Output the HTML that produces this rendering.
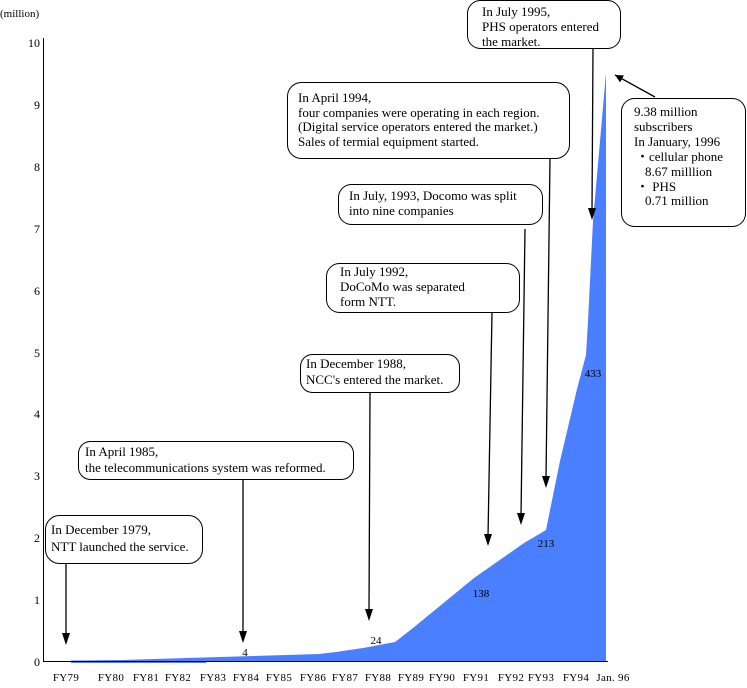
<!DOCTYPE html>
<html><head><meta charset="utf-8"><style>
html,body{margin:0;padding:0;background:#fff;}
svg{display:block;}
text{font-family:"Liberation Serif",serif;fill:#000;}
.t{font-size:13px;}
.ax{font-size:12px;}
.xl{font-size:11px;letter-spacing:0.3px;}
.n{font-family:"Liberation Sans",sans-serif;font-size:11px;}
.b{fill:#fff;stroke:#000;stroke-width:1;}
.ar{stroke:#000;stroke-width:1.3;fill:none;}
</style></head><body>
<svg width="747" height="688" viewBox="0 0 747 688" xmlns="http://www.w3.org/2000/svg">
<defs>
<marker id="ah2" viewBox="0 0 10 10" markerWidth="10" markerHeight="8" refX="10" refY="5" orient="auto" markerUnits="userSpaceOnUse"><path d="M0,0 L10,5 L0,10 Z" fill="#000"/></marker></defs>
<!-- area -->
<polygon fill="#4a7fff" points="71,661 71,660.5 122,660 154,659 187,658 220,657 253,656 286,655 319,654 336,652 363,648 395,642 413,628 474,578 524,543 546,530 560,461 577,389 586,355 588,321 593,221 606,73 606,661"/>
<line x1="71" y1="662" x2="206" y2="662" stroke="#2a4fd0" stroke-width="1.5"/>
<!-- axes -->
<line x1="43.5" y1="38" x2="43.5" y2="662" stroke="#000"/>
<line x1="43" y1="661.5" x2="608" y2="661.5" stroke="#000"/>
<text class="ax" x="0" y="17" style="font-size:11px">(million)</text>
<g class="ax" text-anchor="end">
<text x="40" y="47">10</text><text x="40" y="109">9</text><text x="40" y="171">8</text><text x="40" y="233">7</text><text x="40" y="295">6</text><text x="40" y="357">5</text><text x="40" y="418">4</text><text x="40" y="480">3</text><text x="40" y="542">2</text><text x="40" y="604">1</text><text x="40" y="666">0</text>
</g>
<g class="xl" text-anchor="middle">
<text x="66" y="681">FY79</text><text x="111" y="681">FY80</text><text x="146" y="681">FY81</text><text x="178" y="681">FY82</text><text x="213" y="681">FY83</text><text x="246" y="681">FY84</text><text x="279" y="681">FY85</text><text x="313" y="681">FY86</text><text x="345" y="681">FY87</text><text x="378" y="681">FY88</text><text x="411" y="681">FY89</text><text x="442" y="681">FY90</text><text x="476" y="681">FY91</text><text x="511" y="681">FY92</text><text x="541" y="681">FY93</text><text x="576" y="681">FY94</text><text x="613" y="681">Jan. 96</text>
</g>
<g class="n" text-anchor="middle">
<text x="245" y="656">4</text><text x="376" y="644">24</text><text x="481" y="597">138</text><text x="546" y="547">213</text><text x="593" y="377">433</text>
</g>
<!-- arrows -->
<g class="ar">
<line x1="66" y1="563" x2="66" y2="636"/>
<line x1="243" y1="480" x2="243" y2="634"/>
<line x1="370" y1="393" x2="369" y2="612"/>
<line x1="492" y1="312" x2="488" y2="537"/>
<line x1="525" y1="229" x2="521" y2="516"/>
<line x1="550" y1="158" x2="546" y2="479"/>
<line x1="593" y1="49" x2="592" y2="211"/>
<line x1="655" y1="97" x2="615" y2="75" marker-end="url(#ah2)"/>
</g>
<g fill="#000">
<polygon points="62,633 70,633 66,645"/>
<polygon points="239,631 247,631 243,643"/>
<polygon points="365,609 373,609 369,621"/>
<polygon points="484,534 492,534 488,546"/>
<polygon points="517,513 525,513 521,525"/>
<polygon points="542,476 550,476 546,488"/>
<polygon points="588,208 596,208 592,220"/>
</g>
<!-- boxes -->
<rect class="b" x="45.5" y="515.5" width="157" height="48" rx="14"/>
<text class="t" x="51" y="534">In December 1979,</text><text class="t" x="51" y="551">NTT launched the service.</text>
<rect class="b" x="78.5" y="441.5" width="275" height="38" rx="12"/>
<text class="t" x="85" y="456">In April 1985,</text><text class="t" x="85" y="472">the telecommunications system was reformed.</text>
<rect class="b" x="300.5" y="354.5" width="159" height="38" rx="12"/>
<text class="t" x="306" y="368">In December 1988,</text><text class="t" x="306" y="384">NCC's entered the market.</text>
<rect class="b" x="326.5" y="263.5" width="193" height="49" rx="13"/>
<text class="t" x="340" y="276">In July 1992,</text><text class="t" x="340" y="291">DoCoMo was separated</text><text class="t" x="340" y="306">form NTT.</text>
<rect class="b" x="338.5" y="184.5" width="204" height="40" rx="13"/>
<text class="t" x="349" y="200">In July, 1993, Docomo was split</text><text class="t" x="349" y="215">into nine companies</text>
<rect class="b" x="287.5" y="82.5" width="282" height="76" rx="14"/>
<text class="t" x="298" y="102">In April 1994,</text><text class="t" x="298" y="117">four companies were operating in each region.</text><text class="t" x="298" y="131">(Digital service operators entered the market.)</text><text class="t" x="298" y="146">Sales of termial equipment  started.</text>
<rect class="b" x="467.5" y="0.5" width="153" height="48" rx="13"/>
<text class="t" x="482" y="16">In July 1995,</text><text class="t" x="482" y="31">PHS operators entered</text><text class="t" x="482" y="46">the market.</text>
<rect class="b" x="621.5" y="98.5" width="124" height="128" rx="13"/>
<text class="t" x="634" y="116">9.38 million</text><text class="t" x="634" y="131">subscribers</text><text class="t" x="634" y="146">In January, 1996</text><text class="t" x="636" y="161">・cellular phone</text><text class="t" x="645" y="176">8.67 milllion</text><text class="t" x="636" y="191">・    PHS</text><text class="t" x="645" y="205">0.71 million</text>
</svg>
</body></html>
